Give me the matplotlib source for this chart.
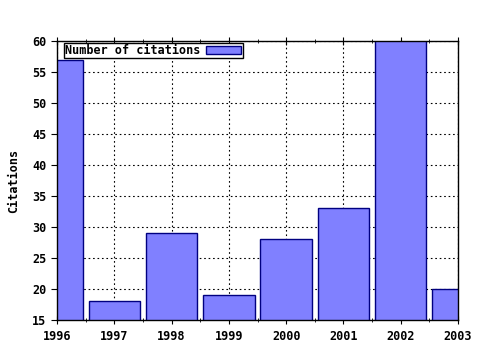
import matplotlib
matplotlib.use("Agg")
import matplotlib.pyplot as plt
from matplotlib.ticker import MultipleLocator

years = [1996, 1997, 1998, 1999, 2000, 2001, 2002, 2003]
citations = [57, 18, 29, 19, 28, 33, 62, 20]

plt.rcParams['font.family'] = ['DejaVu Sans Mono']
plt.rcParams['font.weight'] = 'bold'
FS = 8.5

fig = plt.figure(figsize=(4.8, 3.5), dpi=100)
ax = fig.add_axes([57/480, 1-320/350, (458-57)/480, (320-41)/350])
ax.bar(years, citations, width=0.9, color='#8080ff', edgecolor='#000080',
       linewidth=1.0, label='Number of citations', zorder=2)
ax.set_xlim(1996, 2003)
ax.set_ylim(15, 60)
ax.xaxis.set_major_locator(MultipleLocator(1))
ax.xaxis.set_minor_locator(MultipleLocator(0.5))
ax.yaxis.set_major_locator(MultipleLocator(5))
ax.grid(True, which='major', color='black', linestyle=(0, (1.5, 2.5)), linewidth=0.8, zorder=1)
ax.set_axisbelow(True)
ax.tick_params(axis='x', which='both', direction='inout', top=True, labelsize=FS, pad=4)
ax.tick_params(axis='x', which='major', length=6)
ax.tick_params(axis='x', which='minor', length=3)
ax.tick_params(axis='y', direction='out', length=4, labelsize=FS)
for lab in ax.get_xticklabels() + ax.get_yticklabels():
    lab.set_fontweight('bold')
for s in ax.spines.values():
    s.set_linewidth(1.0)
ax.set_ylabel('Citations', fontsize=FS, fontweight='bold', labelpad=9)
leg = ax.legend(loc='upper left', markerfirst=False, fancybox=False, framealpha=1,
                edgecolor='black', borderpad=0.1, handlelength=3.0,
                handleheight=0.6, handletextpad=0.5, borderaxespad=0.15,
                bbox_to_anchor=(0.012, 1.0),
                prop={'weight': 'bold', 'size': FS})
leg.get_frame().set_linewidth(1.0)
fig.savefig('out.png', dpi=100)
